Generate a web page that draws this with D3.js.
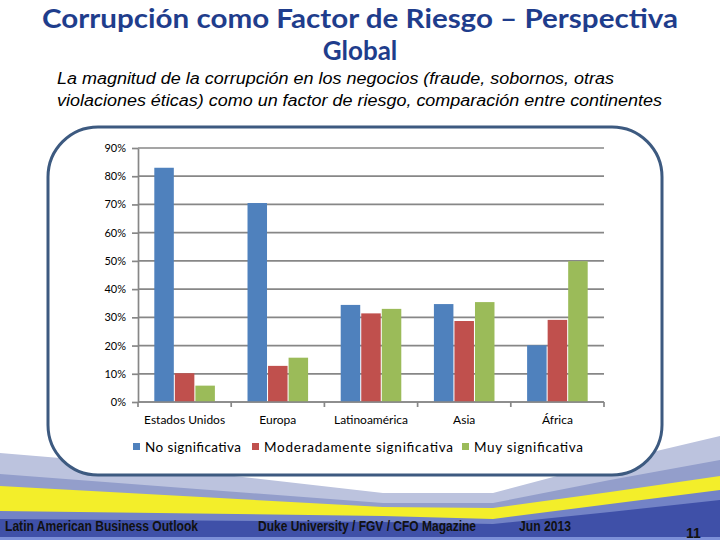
<!DOCTYPE html>
<html><head><meta charset="utf-8">
<script src="https://cdn.jsdelivr.net/npm/d3@7"></script>
<style>body{margin:0;background:#fff}svg{display:block}</style>
</head><body><svg id="c" width="720" height="540"></svg>
<script>
const categories = ["Estados Unidos", "Europa", "Latinoamérica", "Asia", "África"];
const seriesNames = ["No significativa", "Moderadamente significativa", "Muy significativa"];
const noSignificativa = [83, 70.5, 34.4, 34.7, 20.1];
const moderadamente = [10.2, 12.8, 31.4, 28.7, 29.1];
const muySignificativa = [5.8, 15.7, 33.0, 35.4, 49.9];
const yTicks = [0, 10, 20, 30, 40, 50, 60, 70, 80, 90];
const colors = ["#4f81bd", "#c0504d", "#9bbb59"];
const seriesValues = [noSignificativa, moderadamente, muySignificativa];

const svg = d3.select("#c");

// decorative background bands
const bands = [
  {c:"#bcc3de", p:[[0,453],[120,463],[383,493],[493,493],[610,462],[720,436]]},
  {c:"#939ecb", p:[[0,474],[383,503],[493,503],[610,480],[720,460]]},
  {c:"#f3ee2a", p:[[0,486],[383,507],[493,508],[610,492],[720,476]]},
  {c:"#7383c6", p:[[0,511],[383,516],[493,519],[610,504],[720,490]]},
  {c:"#3f50a8", p:[[0,519],[383,522],[493,524],[610,512],[720,500]]}
];
bands.forEach(b=>{
  const pts = b.p.concat([[720,540],[0,540]]);
  svg.append("path").attr("d", d3.line()(pts)+"Z").attr("fill", b.c);
});
svg.append("rect").attr("x",0).attr("y",537).attr("width",720).attr("height",3).attr("fill","#7d90d8");

// rounded frame
svg.append("rect").attr("x",48).attr("y",127).attr("width",614).attr("height",348)
  .attr("rx",50).attr("ry",50).attr("fill","#fff").attr("stroke","#3d5a80").attr("stroke-width",3);

// title
const titleFont = "Lato, 'Open Sans', sans-serif";
svg.append("text").attr("x",360).attr("y",28).attr("text-anchor","middle")
  .attr("font-family",titleFont).attr("font-weight","bold").attr("font-size",26)
  .attr("fill","#1f3d8c").attr("textLength",636).attr("lengthAdjust","spacingAndGlyphs")
  .text("Corrupción como Factor de Riesgo – Perspectiva");
svg.append("text").attr("x",360).attr("y",60).attr("text-anchor","middle")
  .attr("font-family",titleFont).attr("font-weight","bold").attr("font-size",26)
  .attr("fill","#1f3d8c").text("Global");

// subtitle
const sub = ["La magnitud de la corrupción en los negocios (fraude, sobornos, otras",
             "violaciones éticas) como un factor de riesgo, comparación entre continentes"];
const subLen = [557, 605];
sub.forEach((s,i)=>{
  svg.append("text").attr("x",57).attr("y",84+i*22)
    .attr("font-family","'Liberation Sans', Arial, sans-serif").attr("font-style","italic")
    .attr("font-size",16).attr("fill","#000")
    .attr("textLength",subLen[i]).attr("lengthAdjust","spacingAndGlyphs").text(s);
});

// chart
const x0 = d3.scaleBand().domain(categories).range([138,604]).paddingInner(0.35).paddingOuter(0.175);
const x1 = d3.scaleBand().domain(d3.range(3)).range([0,x0.bandwidth()]).paddingInner(0.05);
const y = d3.scaleLinear().domain([0,90]).range([402,148]);
const chartFont = "Lato, 'Open Sans', sans-serif";

const g = svg.append("g");
g.selectAll("line.grid").data(yTicks).join("line")
  .attr("x1",138).attr("x2",604).attr("y1",d=>y(d)).attr("y2",d=>y(d))
  .attr("stroke","#878787").attr("stroke-width",1.7);

const yAxis = d3.axisLeft(y).tickValues(yTicks).tickFormat(d=>d+"%").tickSize(6).tickSizeOuter(0);
const ya = svg.append("g").attr("transform","translate(138,0)").call(yAxis);
ya.select(".domain").attr("stroke","#878787").attr("stroke-width",1.7);
ya.selectAll(".tick line").attr("stroke","#878787").attr("stroke-width",1.7);
ya.selectAll(".tick text").attr("font-family",chartFont).attr("font-size",11).attr("fill","#000").attr("x",-12);

categories.forEach((c,ci)=>{
  seriesValues.forEach((vals,si)=>{
    svg.append("rect").attr("x",x0(c)+x1(si)).attr("width",x1.bandwidth())
      .attr("y",y(vals[ci])).attr("height",y(0)-y(vals[ci])).attr("fill",colors[si]);
  });
});

const xa = svg.append("g").attr("transform","translate(0,402)");
xa.append("line").attr("x1",138).attr("x2",604).attr("stroke","#878787").attr("stroke-width",1.7);
const bounds = categories.map(c=>x0(c)-x0.step()*0.175).concat([604]);
xa.selectAll("line.t").data(bounds).join("line").attr("class","t")
  .attr("x1",d=>d).attr("x2",d=>d).attr("y1",0).attr("y2",5).attr("stroke","#878787").attr("stroke-width",1.7);
xa.selectAll("text").data(categories).join("text")
  .attr("x",d=>x0(d)+x0.bandwidth()/2).attr("y",22).attr("text-anchor","middle")
  .attr("font-family",chartFont).attr("font-size",12).attr("fill","#000").text(d=>d);

const legX = [133, 252, 462];
const legLen = [96, 189, 109];
seriesNames.forEach((n,i)=>{
  svg.append("rect").attr("x",legX[i]).attr("y",443).attr("width",7).attr("height",7).attr("fill",colors[i]);
  svg.append("text").attr("x",legX[i]+12).attr("y",451.5)
    .attr("font-family",chartFont).attr("font-size",13.5).attr("fill","#000")
    .attr("textLength",legLen[i]).attr("lengthAdjust","spacing").text(n);
});

const footFont = "'Liberation Sans Narrow', 'Arial Narrow', 'Liberation Sans', sans-serif";
const foot = [["Latin American Business Outlook",5,193],["Duke University / FGV / CFO Magazine",258,218],["Jun 2013",519,52]];
foot.forEach(f=>{
  svg.append("text").attr("x",f[1]).attr("y",531).attr("font-family",footFont)
    .attr("font-weight","bold").attr("font-size",14).attr("fill","#111")
    .attr("textLength",f[2]).attr("lengthAdjust","spacingAndGlyphs").text(f[0]);
});
svg.append("text").attr("x",686).attr("y",538).attr("font-family",footFont)
  .attr("font-weight","bold").attr("font-size",14).attr("fill","#111").text("11");
</script></body></html>
